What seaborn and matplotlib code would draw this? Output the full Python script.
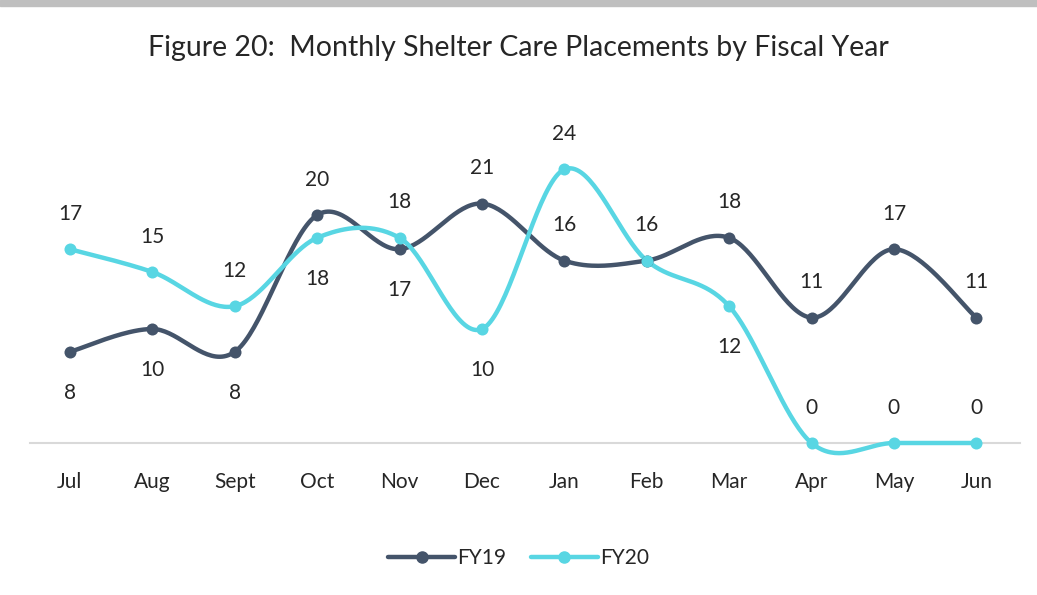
import numpy as np
import pandas as pd
import matplotlib
matplotlib.use("Agg")
import matplotlib.pyplot as plt
from matplotlib.lines import Line2D
from matplotlib.patches import Rectangle
import seaborn as sns

months = ["Jul", "Aug", "Sept", "Oct", "Nov", "Dec", "Jan", "Feb", "Mar", "Apr", "May", "Jun"]
fy19 = [8, 10, 8, 20, 17, 21, 16, 16, 18, 11, 17, 11]
fy20 = [17, 15, 12, 18, 18, 10, 24, 16, 12, 0, 0, 0]
# label placement: 1 above, -1 below, 0 hidden
fy19_pos = [-1, -1, -1, 1, -1, 1, 1, 1, 1, 1, 1, 1]
fy20_pos = [1, 1, 1, -1, 1, -1, 1, 0, -1, 1, 1, 1]

C19 = "#44546A"
C20 = "#58D6E3"
TXT = "#262626"


def smooth(y, n=40):
    """Excel-style smoothed line (Catmull-Rom bezier) through the points."""
    x = np.arange(len(y), dtype=float)
    y = np.asarray(y, dtype=float)
    px = np.concatenate([[x[0]], x, [x[-1]]])
    py = np.concatenate([[y[0]], y, [y[-1]]])
    xs, ys = [], []
    t = np.linspace(0, 1, n)
    for i in range(len(y) - 1):
        p0 = np.array([px[i + 1], py[i + 1]])
        p3 = np.array([px[i + 2], py[i + 2]])
        c1 = p0 + (np.array([px[i + 2], py[i + 2]]) - np.array([px[i], py[i]])) / 6
        c2 = p3 - (np.array([px[i + 3], py[i + 3]]) - np.array([px[i + 1], py[i + 1]])) / 6
        b = ((1 - t) ** 3)[:, None] * p0 + (3 * (1 - t) ** 2 * t)[:, None] * c1 \
            + (3 * (1 - t) * t ** 2)[:, None] * c2 + (t ** 3)[:, None] * p3
        xs.extend(b[:, 0])
        ys.extend(b[:, 1])
    return np.array(xs), np.array(ys)


sns.set_style("white")
plt.rcParams["font.family"] = ["Lato", "DejaVu Sans"]

fig = plt.figure(figsize=(10.37, 5.95), dpi=100)
ax = fig.add_axes([30 / 1037, (595 - 443) / 595, 990 / 1037, 342 / 595])

for vals, col in [(fy19, C19), (fy20, C20)]:
    sx, sy = smooth(vals)
    curve = pd.DataFrame({"x": sx, "y": sy})
    sns.lineplot(data=curve, x="x", y="y", sort=False, color=col, linewidth=3.2,
                 ax=ax, zorder=3)
    pts = pd.DataFrame({"x": np.arange(len(vals)), "y": vals})
    sns.scatterplot(data=pts, x="x", y="y", color=col, s=75, edgecolor=col,
                    linewidth=0, ax=ax, zorder=4)

for art in list(ax.lines) + list(ax.collections):
    art.set_clip_on(False)

for vals, pos in [(fy19, fy19_pos), (fy20, fy20_pos)]:
    for i, (v, p) in enumerate(zip(vals, pos)):
        if p == 0:
            continue
        off = 3.1 if p > 0 else -3.6
        ax.text(i, v + off, str(v), ha="center", va="center", fontsize=15, color=TXT)

ax.set_xlim(-0.485, 11.53)
ax.set_ylim(0, 30)
ax.set_xticks(range(len(months)))
ax.set_xticklabels(months, fontsize=15, color=TXT)
ax.set_yticks([])
ax.set_xlabel("")
ax.set_ylabel("")
ax.tick_params(axis="x", length=0, pad=21)
for s in ["top", "right", "left"]:
    ax.spines[s].set_visible(False)
ax.spines["bottom"].set_color("#D9D9D9")
ax.spines["bottom"].set_linewidth(1.5)
ax.spines["bottom"].set_zorder(1)

fig.text(0.5, 1 - 48 / 595, "Figure 20:  Monthly Shelter Care Placements by Fiscal Year",
         ha="center", va="center", fontsize=20.5, color=TXT)

handles = [Line2D([], [], color=C19, lw=3.2, marker="o", markersize=8),
           Line2D([], [], color=C20, lw=3.2, marker="o", markersize=8)]
fig.legend(handles, ["FY19", "FY20"], loc="center", bbox_to_anchor=(0.5, 1 - 558 / 595),
           ncol=2, frameon=False, fontsize=15, handlelength=3.2, columnspacing=1.2,
           handletextpad=0.1, labelcolor=TXT)

fig.patches.append(Rectangle((0, 1 - 6 / 595), 1, 6 / 595, transform=fig.transFigure,
                             color="#BFBFBF", zorder=0))

fig.savefig("out.png", dpi=100)
